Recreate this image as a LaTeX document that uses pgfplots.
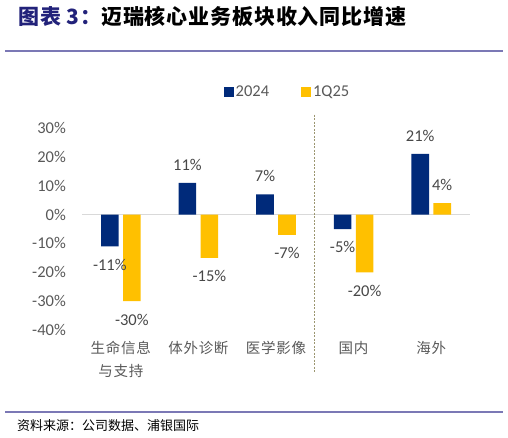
\documentclass[border=0pt]{standalone}
\usepackage{pgfplots}
\pgfplotsset{compat=1.18}
\usepackage{fontspec}
\setmainfont{Carlito}
\newfontfamily\cjk{Noto Sans CJK SC}
\definecolor{navy}{HTML}{002A7A}
\definecolor{gold}{HTML}{FFC000}
\definecolor{titleblue}{HTML}{22227A}
\definecolor{rulecol}{HTML}{7B78B5}
\definecolor{txtgray}{HTML}{595959}
\definecolor{dashcol}{HTML}{9B9670}

\begin{document}
\begin{tikzpicture}
\useasboundingbox (0pt,0pt) rectangle (508pt,-437pt);
% title and rules
\node[anchor=west, inner sep=0pt, font=\cjk\bfseries\fontsize{21}{24}\selectfont\addfontfeatures{LetterSpace=4}]
  at (18pt,-16pt) {\textcolor{titleblue}{图表 3：}迈瑞核心业务板块收入同比增速};
\draw[rulecol, line width=1.2pt] (5pt,-51pt) -- (503pt,-51pt);
\draw[rulecol, line width=1.2pt] (5pt,-412pt) -- (503pt,-412pt);
\node[anchor=west, inner sep=0pt, font=\cjk\fontsize{13}{15}\selectfont]
  at (17pt,-426pt) {资料来源：公司数据、浦银国际};

\begin{axis}[
  at={(82pt,-330pt)}, anchor=south west,
  scale only axis, width=388pt, height=202pt,
  clip=false,
  ybar=4.4pt, bar width=17.6pt,
  xmin=-0.5, xmax=4.5, ymin=-40, ymax=30,
  ytick={-40,-30,...,30},
  yticklabel={\pgfmathprintnumber{\tick}\%},
  xtick={0,1,2,3,4},
  xticklabels={{生命信息\\与支持},体外诊断,医学影像,国内,海外},
  axis line style={draw=none},
  major tick length=0pt,
  /pgf/number format/assume math mode=true,
  yticklabel style={font=\fontsize{16.5}{18}\selectfont, text=txtgray, inner xsep=0pt, xshift=-16pt},
  xticklabel style={font=\cjk\fontsize{14.5}{23}\selectfont\addfontfeatures{LetterSpace=5}, text=txtgray, align=center, inner sep=0pt, yshift=-11pt},
  nodes near coords={\pgfmathprintnumber{\pgfplotspointmeta}\%},
  every node near coord/.append style={font=\fontsize{16.5}{18}\selectfont, text=black!72, inner xsep=0pt, inner ysep=12.5pt},
  legend style={at={(0.5296,1.18)}, anchor=center, draw=none, fill=none,
    font=\fontsize{16.5}{18}\selectfont, text=txtgray,
    /tikz/every even column/.append style={column sep=30pt}},
  legend columns=2,
  legend image code/.code={\draw[#1, draw=none] (0pt,-5pt) rectangle (10pt,5pt);},
]
\draw[black!15, line width=1pt] (axis cs:-0.5,0) -- (axis cs:4.5,0);
\addplot[fill=navy, draw=none] coordinates {(0,-11) (1,11) (2,7) (3,-5) (4,21)};
\addplot[fill=gold, draw=none] coordinates {(0,-30) (1,-15) (2,-7) (3,-20) (4,4)};
\legend{2024,1Q25}
\draw[dashcol, line width=1pt, dash pattern=on 2pt off 1.5pt] (axis cs:2.5,34.6) -- (axis cs:2.5,-54.4);
\end{axis}
\end{tikzpicture}
\end{document}
